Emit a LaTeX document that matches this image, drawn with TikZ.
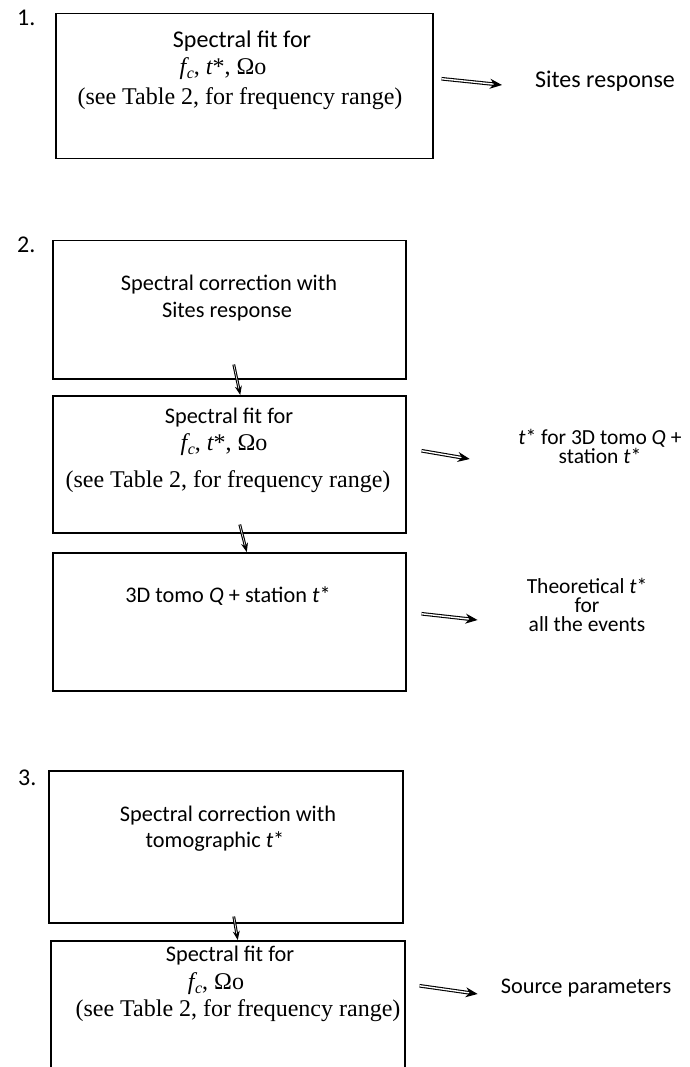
\documentclass[tikz,border=0pt]{standalone}
\usepackage{fontspec}
\setmainfont{Carlito}
\newfontfamily\tnr{Liberation Serif}
\usetikzlibrary{arrows.meta,calc}

% f with an italic subscript c, set in the serif face
\newcommand{\fcsym}{{\itshape f}\kern0.5pt\raisebox{-4pt}{\fontsize{16}{16}\selectfont\itshape c}}
% italic t followed by an upright star
\newcommand{\tstar}{{\itshape t}*}

\tikzset{
  stepbox/.style={draw, line width=1.5pt, rectangle, inner sep=0pt, anchor=north west},
  lbl/.style={font=\fontsize{22.3}{27}\selectfont, inner sep=0pt, anchor=base},
  big/.style={lbl, font=\fontsize{24}{29}\selectfont},
  side/.style={font=\fontsize{21.5}{18.8}\selectfont,
               execute at begin node={\lineskiplimit=-20pt\relax},
               inner sep=0pt, anchor=base, align=center},
  slbl/.style={font=\tnr\fontsize{24}{29}\selectfont, inner sep=0pt, anchor=base},
  num/.style={font=\fontsize{24}{29}\selectfont, inner sep=0pt, anchor=base west},
  flow/.style={double, double distance=1.4pt, line width=1.1pt,
               -{Stealth[length=12pt,width=10pt]}},
  drop/.style={double, double distance=0.6pt, line width=1.1pt,
               -{Stealth[length=9pt,width=7pt]}}
}

\begin{document}
\begin{tikzpicture}[x=1pt,y=-1pt]
\useasboundingbox (0,0) rectangle (689,1067);
\fill[white] (0,0) rectangle (689,1067);

% ---------- step 1 ----------
\node[num] (n1) at (17,26) {1.};
\node[stepbox, minimum width=377pt, minimum height=145pt] (b1) at (55,13) {};
\node[big]  (t1a) at (242,48)  {Spectral fit for};
\node[slbl] (t1b) at (223,75)  {\fcsym, \tstar, Ωo};
\node[slbl] (t1c) at (240,105) {(see Table 2, for frequency range)};
\node[big]  (sites) at (605,88) {Sites response};
\draw[flow] ($(b1.east)+(8,-7.5)$) -- ($(sites.base west)+(-33,-3)$);

% ---------- step 2 ----------
\node[num] (n2) at (17,252) {2.};
\node[stepbox, minimum width=353pt, minimum height=138pt] (b2a) at (52,240) {};
\node[lbl] (t2a1) at (229,290) {Spectral correction with};
\node[lbl] (t2a2) at (227,317) {Sites response};

\node[stepbox, minimum width=353pt, minimum height=137pt] (b2b) at (52,395) {};
\node[lbl]  (t2b1) at (229,423) {Spectral fit for};
\node[slbl] (t2b2) at (224,450) {\fcsym, \tstar, Ωo};
\node[slbl] (t2b3) at (228,487) {(see Table 2, for frequency range)};

\node[stepbox, minimum width=353pt, minimum height=138pt] (b2c) at (52,552) {};
\node[lbl] (t2c) at (228,602) {3D tomo \textit{Q} + station \tstar};

\node[side] (r2b) at (600,463) {\tstar{} for 3D tomo \textit{Q} +\\station \tstar};
\node[side] (r2c) at (587,631) {Theoretical \tstar\\for\\all the events};

\draw[drop] ($(b2a.south)+(4.5,-15)$) -- ($(b2b.north)+(11,0)$);
\draw[drop] ($(b2b.south)+(10.5,-9)$) -- ($(b2c.north)+(17.5,0)$);
\draw[flow] ($(b2b.east)+(15,-13.5)$) -- ($(r2b.base west)+(-48.5,-4)$);
\draw[flow] ($(b2c.east)+(15,-8)$) -- ($(r2c.base west)+(-49,-11)$);

% ---------- step 3 ----------
\node[num] (n3) at (18,785) {3.};
\node[stepbox, minimum width=354pt, minimum height=152pt] (b3a) at (48,770) {};
\node[lbl] (t3a1) at (228,821) {Spectral correction with};
\node[lbl] (t3a2) at (215,847) {tomographic \tstar};

\node[stepbox, minimum width=354pt, minimum height=140pt] (b3b) at (50,940) {};
\node[lbl]  (t3b1) at (230,961)  {Spectral fit for};
\node[slbl] (t3b2) at (216,989)  {\fcsym, Ωo};
\node[slbl] (t3b3) at (238,1016) {(see Table 2, for frequency range)};

\node[lbl] (src) at (586,993) {Source parameters};

\draw[drop] ($(b3a.south)+(8,-7)$) -- ($(b3b.north)+(10,0)$);
\draw[flow] ($(b3b.east)+(14,-25)$) -- ($(src.base west)+(-23,1)$);
\end{tikzpicture}
\end{document}
